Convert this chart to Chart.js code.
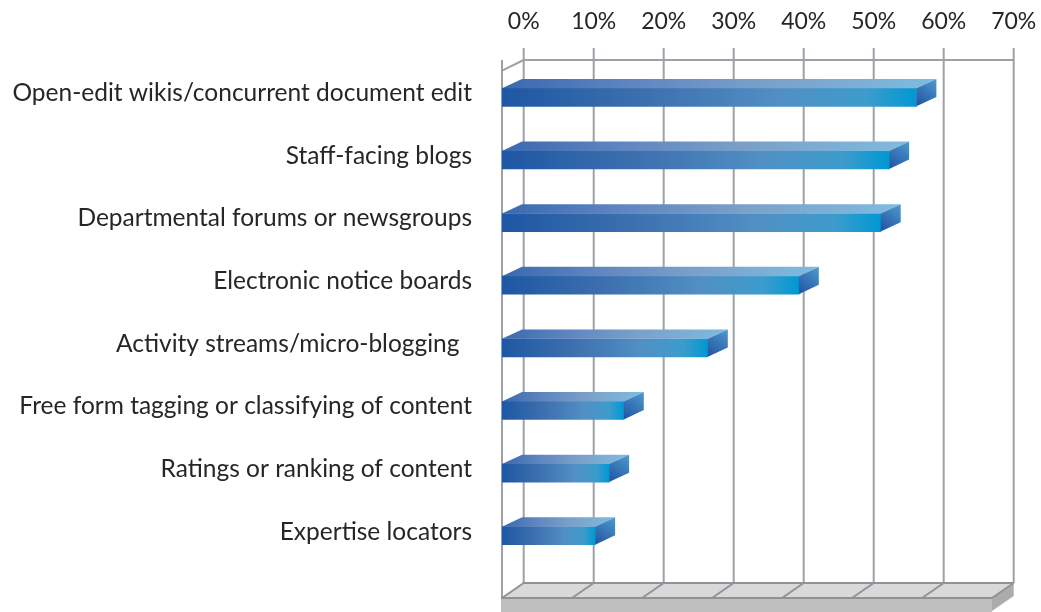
<!DOCTYPE html>
<html>
<head>
<meta charset="utf-8">
<script src="https://cdn.jsdelivr.net/npm/chart.js@4.4.0/dist/chart.umd.min.js"></script>
<style>
  html, body { margin: 0; padding: 0; background: #fff; }
  #wrap { width: 1041px; height: 612px; }
</style>
</head>
<body>
<div id="wrap"><canvas id="myChart"></canvas></div>
<script>
const categories = [
    'Open-edit wikis/concurrent document edit',
    'Staff-facing blogs',
    'Departmental forums or newsgroups',
    'Electronic notice boards',
    'Activity streams/micro-blogging  ',
    'Free form tagging or classifying of content',
    'Ratings or ranking of content',
    'Expertise locators'
];
const values = [59.2, 55.3, 54.1, 42.4, 29.4, 17.4, 15.3, 13.3];
const tickValues = [0, 10, 20, 30, 40, 50, 60, 70];

// 3d look
const WALL_DX = 21.7;
const BAR_DX = 20, BAR_DY = 9.4;
const gridColor = '#9da1a6';
const textColor = '#262626';

function line(ctx, ax, ay, bx, by) {
    ctx.beginPath();
    ctx.moveTo(ax, ay);
    ctx.lineTo(bx, by);
    ctx.stroke();
}

function poly(ctx, pts, fill) {
    ctx.beginPath();
    ctx.moveTo(pts[0][0], pts[0][1]);
    for (let i = 1; i < pts.length; i++) ctx.lineTo(pts[i][0], pts[i][1]);
    ctx.closePath();
    ctx.fillStyle = fill;
    ctx.fill();
}

const wallsPlugin = {
    id: 'walls',
    beforeDatasetsDraw(chart) {
        const { ctx, chartArea: ca, scales: { x } } = chart;
        const x0 = x.getPixelForValue(tickValues[0]);
        const x1 = x.getPixelForValue(tickValues[tickValues.length - 1]);
        const backTop = ca.top - 6;
        const tickTop = backTop - 12;
        const frontTop = backTop + 10.7;
        const backFloor = ca.bottom + 16;
        const frontFloor = backFloor + 15;

        ctx.save();
        // floor slab
        ctx.fillStyle = '#bfbfbf';
        ctx.fillRect(x0 - 1, frontFloor, x1 - x0 + 1, chart.height - frontFloor);
        poly(ctx, [[x1, frontFloor], [x1 + WALL_DX, backFloor], [x1 + WALL_DX, backFloor + 13], [x1, frontFloor + 13]], '#acacac');
        poly(ctx, [[x0, frontFloor], [x1, frontFloor], [x1 + WALL_DX, backFloor], [x0 + WALL_DX, backFloor]], '#d9d9d9');

        ctx.strokeStyle = gridColor;
        ctx.lineWidth = 2;
        tickValues.forEach(v => {
            const px = x.getPixelForValue(v);
            line(ctx, px + WALL_DX, tickTop, px + WALL_DX, backFloor);
        });
        line(ctx, x0 + WALL_DX, backTop, x1 + WALL_DX, backTop);
        line(ctx, x0, backTop, x0, frontFloor);
        line(ctx, x0, frontTop, x0 + WALL_DX, backTop);

        ctx.strokeStyle = '#8f9397';
        tickValues.forEach(v => {
            const px = x.getPixelForValue(v);
            line(ctx, px + WALL_DX, backFloor, px, frontFloor);
        });
        line(ctx, x0 + WALL_DX - 1, backFloor, x1 + WALL_DX, backFloor);
        line(ctx, x0 - 1, frontFloor, x1, frontFloor);
        ctx.restore();
    },
    afterDatasetsDraw(chart) {
        const ctx = chart.ctx;
        const meta = chart.getDatasetMeta(0);
        ctx.save();
        meta.data.forEach(bar => {
            const { x: xe, y, base, height } = bar.getProps(['x', 'y', 'base', 'height'], true);
            const top = y - height / 2, bottom = y + height / 2;

            const gTop = ctx.createLinearGradient(base, 0, xe + BAR_DX, 0);
            gTop.addColorStop(0, '#3a69af');
            gTop.addColorStop(0.3, '#5f86c0');
            gTop.addColorStop(0.6, '#7aa0c9');
            gTop.addColorStop(1, '#7fbbe0');
            poly(ctx, [[base, top], [xe, top], [xe + BAR_DX, top - BAR_DY], [base + BAR_DX, top - BAR_DY]], gTop);

            const gSide = ctx.createLinearGradient(xe, bottom, xe + BAR_DX, top - BAR_DY);
            gSide.addColorStop(0, '#1f52a0');
            gSide.addColorStop(1, '#4f9bcf');
            poly(ctx, [[xe, top], [xe + BAR_DX, top - BAR_DY], [xe + BAR_DX, bottom - BAR_DY], [xe, bottom]], gSide);
        });
        ctx.restore();
    }
};

function frontColor(c) {
    const chart = c.chart;
    if (!chart.chartArea || !chart.scales.x) return '#3a75b8';
    const xs = chart.scales.x;
    const a = xs.getPixelForValue(0);
    const b = xs.getPixelForValue(c.raw);
    const g = chart.ctx.createLinearGradient(a, 0, b, 0);
    g.addColorStop(0, '#1e57a3');
    g.addColorStop(0.35, '#3d70af');
    g.addColorStop(0.68, '#5190c4');
    g.addColorStop(0.88, '#3c9ccc');
    g.addColorStop(1, '#0098d3');
    return g;
}

const ctx = document.getElementById('myChart');
const config = {
    type: 'bar',
    data: {
        labels: categories,
        datasets: [{
            data: values,
            backgroundColor: frontColor,
            borderWidth: 0,
            barThickness: 18
        }]
    },
    plugins: [wallsPlugin],
    options: {
        indexAxis: 'y',
        responsive: true,
        maintainAspectRatio: false,
        animation: false,
        layout: { padding: { left: 0, right: 49, top: 0, bottom: 45 } },
        plugins: {
            legend: { display: false },
            tooltip: { enabled: false }
        },
        scales: {
            x: {
                position: 'top',
                min: 0,
                max: 70,
                afterBuildTicks: (scale) => {
                    scale.ticks = tickValues.map(v => ({ value: v }));
                },
                afterFit: (scale) => {
                    scale.height = 66;
                    scale.paddingLeft = 0;
                    scale.paddingRight = 0;
                },
                grid: { display: false, drawTicks: false },
                border: { display: false },
                ticks: {
                    callback: (v) => v + '%',
                    labelOffset: WALL_DX,
                    padding: 31,
                    color: textColor,
                    font: { family: 'Lato', size: 23 }
                }
            },
            y: {
                afterFit: (scale) => { scale.width = 502; },
                grid: { display: false, drawTicks: false },
                border: { display: false },
                ticks: {
                    padding: 30,
                    labelOffset: -4,
                    color: textColor,
                    font: { family: 'Lato', size: 24.5 }
                }
            }
        }
    }
};

window.myChart = new Chart(ctx, config);
</script>
</body>
</html>
